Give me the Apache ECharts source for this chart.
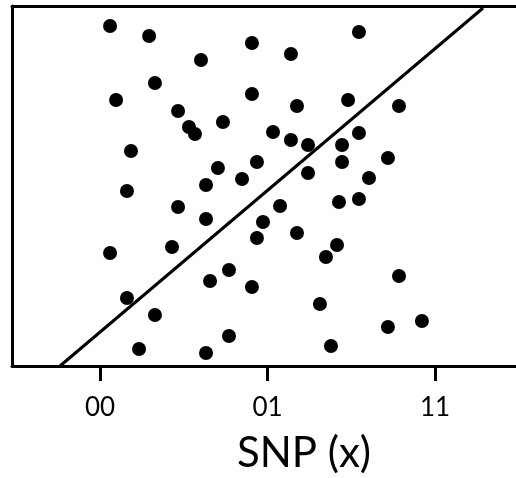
<!DOCTYPE html>
<html>
<head>
<meta charset="utf-8">
<script src="https://cdn.jsdelivr.net/npm/echarts@6/dist/echarts.min.js"></script>
<style>html,body{margin:0;padding:0;background:#fff}#c{width:516px;height:478px}</style>
</head>
<body>
<div id="c"></div>
<script>
// Genotype (SNP) positions: 0 = "00", 1 = "01", 2 = "11"
var tickValues = [0, 1, 2];
var tickLabels = ['00', '01', '11'];
var xTitle = 'SNP (x)';

// Scatter points: x (SNP position) and y (phenotype)
var pointX = [0.060, 0.293, 0.907, 0.603, 1.140, 1.546, 0.328, 0.096, 0.907, 1.176,
              1.481, 1.785, 0.466, 0.734, 0.531, 0.567, 1.033, 1.140, 1.242, 1.546,
              1.445, 0.185, 0.937, 1.445, 1.719, 0.704, 1.242, 1.606, 0.161, 0.633,
              0.848, 0.466, 0.633, 1.075, 1.427, 1.546, 0.973, 0.937, 1.176, 1.415,
              1.349, 0.060, 0.430, 0.770, 0.657, 0.907, 1.785, 0.161, 1.313, 0.328,
              1.922, 1.719, 0.233, 0.633, 0.770, 1.379];
var pointY = [34.0, 33.0, 32.3, 30.6, 31.2, 33.4, 28.3, 26.6, 27.2, 26.0,
              26.6, 26.0, 25.5, 24.4, 23.9, 23.2, 23.4, 22.6, 22.1, 23.3,
              22.1, 21.5, 20.4, 20.4, 20.8, 19.8, 19.3, 18.8, 17.5, 18.1,
              18.7, 15.9, 14.7, 16.0, 16.4, 16.7, 14.4, 12.8, 13.3, 12.1,
              10.9, 11.3, 11.9, 9.6, 8.5, 7.9, 9.0, 6.8, 6.2, 5.1,
              4.5, 3.9, 1.7, 1.3, 3.0, 2.0];

// Fitted line endpoints
var lineX = [-0.239, 2.287];
var lineY = [0, 35.8];

var points = pointX.map(function (x, i) { return [x, pointY[i]]; });
var linePts = lineX.map(function (x, i) { return [x, lineY[i]]; });

var xMin = -0.5254, xMax = 2.4836;

var chart = echarts.init(document.getElementById('c'), null, {renderer: 'canvas'});
chart.setOption({
  backgroundColor: '#fff',
  animation: false,
  grid: {left: 12, right: 0, top: 6, bottom: 112},
  xAxis: [{
    type: 'value', min: xMin, max: xMax,
    splitLine: {show: false},
    axisLine: {show: true, onZero: false, lineStyle: {color: '#000', width: 3}},
    axisTick: {show: true, customValues: tickValues, length: 15, lineStyle: {color: '#000', width: 3}},
    axisLabel: {
      show: true, customValues: tickValues, margin: 29,
      fontFamily: 'Lato', fontSize: 26, color: '#000',
      formatter: function (v) { var i = tickValues.indexOf(Math.round(v)); return i >= 0 ? tickLabels[i] : ''; }
    }
  }, {
    type: 'value', position: 'top', min: xMin, max: xMax,
    splitLine: {show: false},
    axisLine: {show: true, onZero: false, lineStyle: {color: '#000', width: 3}},
    axisTick: {show: false}, axisLabel: {show: false}
  }],
  yAxis: {
    type: 'value', min: 0, max: 36,
    splitLine: {show: false},
    axisLine: {show: true, onZero: false, lineStyle: {color: '#000', width: 3}},
    axisTick: {show: false}, axisLabel: {show: false}
  },
  graphic: [{
    type: 'text', x: 304, y: 453,
    style: {text: xTitle, align: 'center', verticalAlign: 'middle', font: '42px Lato', fill: '#000'}
  }],
  series: [{
    type: 'line', data: linePts, showSymbol: false, symbol: 'none',
    lineStyle: {color: '#000', width: 3}, silent: true, z: 3
  }, {
    type: 'scatter', data: points, symbolSize: 14,
    itemStyle: {color: '#000', opacity: 1}, z: 4
  }]
});
</script>
</body>
</html>
